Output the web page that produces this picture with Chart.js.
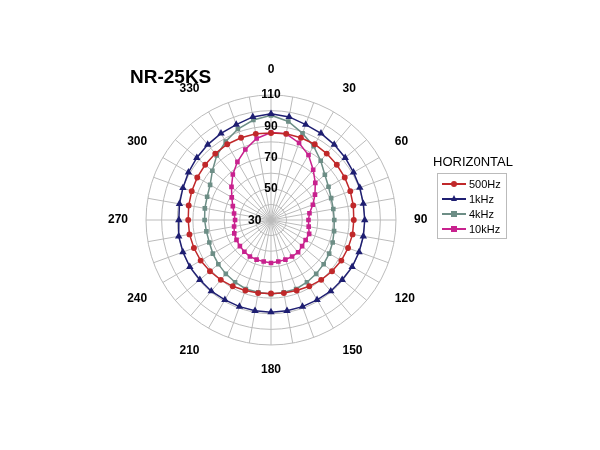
<!DOCTYPE html>
<html><head><meta charset="utf-8">
<script src="https://cdn.jsdelivr.net/npm/chart.js@4"></script>
<style>
body{margin:0;width:600px;height:450px;background:#fff;font-family:"Liberation Sans",Arial,sans-serif;position:relative;overflow:hidden}
#wrap{position:absolute;left:98px;top:50px;width:340px;height:340px}
#title{position:absolute;left:130px;top:66px;font-weight:bold;font-size:19px}
#t30{position:absolute;left:248px;top:213px;font-weight:bold;font-size:12px}
#lt{position:absolute;left:433px;top:154px;font-size:13px}
#leg{position:absolute;left:437px;top:173px;width:60px;border:1px solid #bbb;padding:2px 4px;font-size:11px}
.r{display:flex;align-items:center;height:15px}
.m{position:relative;width:24px;height:2px;margin-right:3px}
.m i{position:absolute;left:9px;top:-2px;width:6px;height:6px}
.m b{position:absolute;left:9px;top:-3px;width:0;height:0;border-left:3px solid transparent;border-right:3px solid transparent;border-bottom:6px solid}
</style></head><body>
<div id="wrap"><canvas id="c"></canvas></div>
<div id="title">NR-25KS</div>
<div id="t30">30</div>
<div id="lt">HORIZ0NTAL</div>
<div id="leg"></div>
<script>
const angles=[0,10,20,30,40,50,60,70,80,90,100,110,120,130,140,150,160,170,180,190,200,210,220,230,240,250,260,270,280,290,300,310,320,330,340,350];
const tickLabels=[30,50,70,90,110];
const s500=[85.7,86,86,86,85.5,85,84.5,84,83.5,83,83,82.5,82,81,80,79,78,77.5,77,77.5,78,79,80,81,82,82.5,83,83,83.5,84,84.5,85,85.5,86,86,86];
const s1k=[98,97,95,94,93,92,91,90.5,90,90,90,90,90,89.5,89.5,89,89,89,89,89,89,89,89.5,89.5,90,90,90,89,89.5,90,91,92,93,94,95,97];
const s4k=[97,94,89,84.5,79.5,75,72.5,71,70.5,70.5,71,72,73,74,75,76,77,77,77.5,77,77,76,75,74,73,72,72,72.5,73,73.5,75,79,84,88,92,95];
const s10k=[86,86,82.5,78,72,67,62.5,58.5,55,54,54.5,56,55.6,56,57,57,57,57,57.5,57,57,57,56.5,56,55.5,55,54,53,54,56,59,63,68,73,78,83];
const series=[["500Hz",s500,"#c0282a","circle"],["1kHz",s1k,"#1f1f72","triangle"],["4kHz",s4k,"#6d8e86","rect"],["10kHz",s10k,"#c8228e","rect"]];
const leg=document.getElementById('leg');
series.forEach(s=>{const d=document.createElement('div');d.className='r';
const br=s[3]==='circle'?'50%':'0';
const mk=s[3]==='triangle'?`<b style="border-bottom-color:${s[2]}"></b>`:`<i style="background:${s[2]};border-radius:${br}"></i>`;
d.innerHTML=`<span class="m" style="background:${s[2]}">${mk}</span>${s[0]}`;leg.appendChild(d);});
new Chart(document.getElementById('c'),{type:'radar',
data:{labels:angles.map(String),datasets:series.map(s=>({label:s[0],data:s[1],borderColor:s[2],backgroundColor:s[2],pointStyle:s[3],pointRadius:s[3]==='triangle'?2.8:2.2,borderWidth:1.5,fill:false}))},
options:{responsive:true,maintainAspectRatio:false,animation:false,layout:{padding:7},
plugins:{legend:{display:false},tooltip:{enabled:false}},
scales:{r:{min:30,max:110,startAngle:0,
ticks:{stepSize:10,showLabelBackdrop:false,color:'#000',font:{size:12,weight:'bold',family:'Liberation Sans'},callback:v=>tickLabels.includes(v)?String(v):''},
grid:{circular:true,color:'#bbb'},angleLines:{color:'#bbb'},
pointLabels:{color:'#000',padding:10,font:{size:12,weight:'bold',family:'Liberation Sans'},callback:(l,i)=>(+l)%30===0?l:''}}}}});
</script></body></html>
